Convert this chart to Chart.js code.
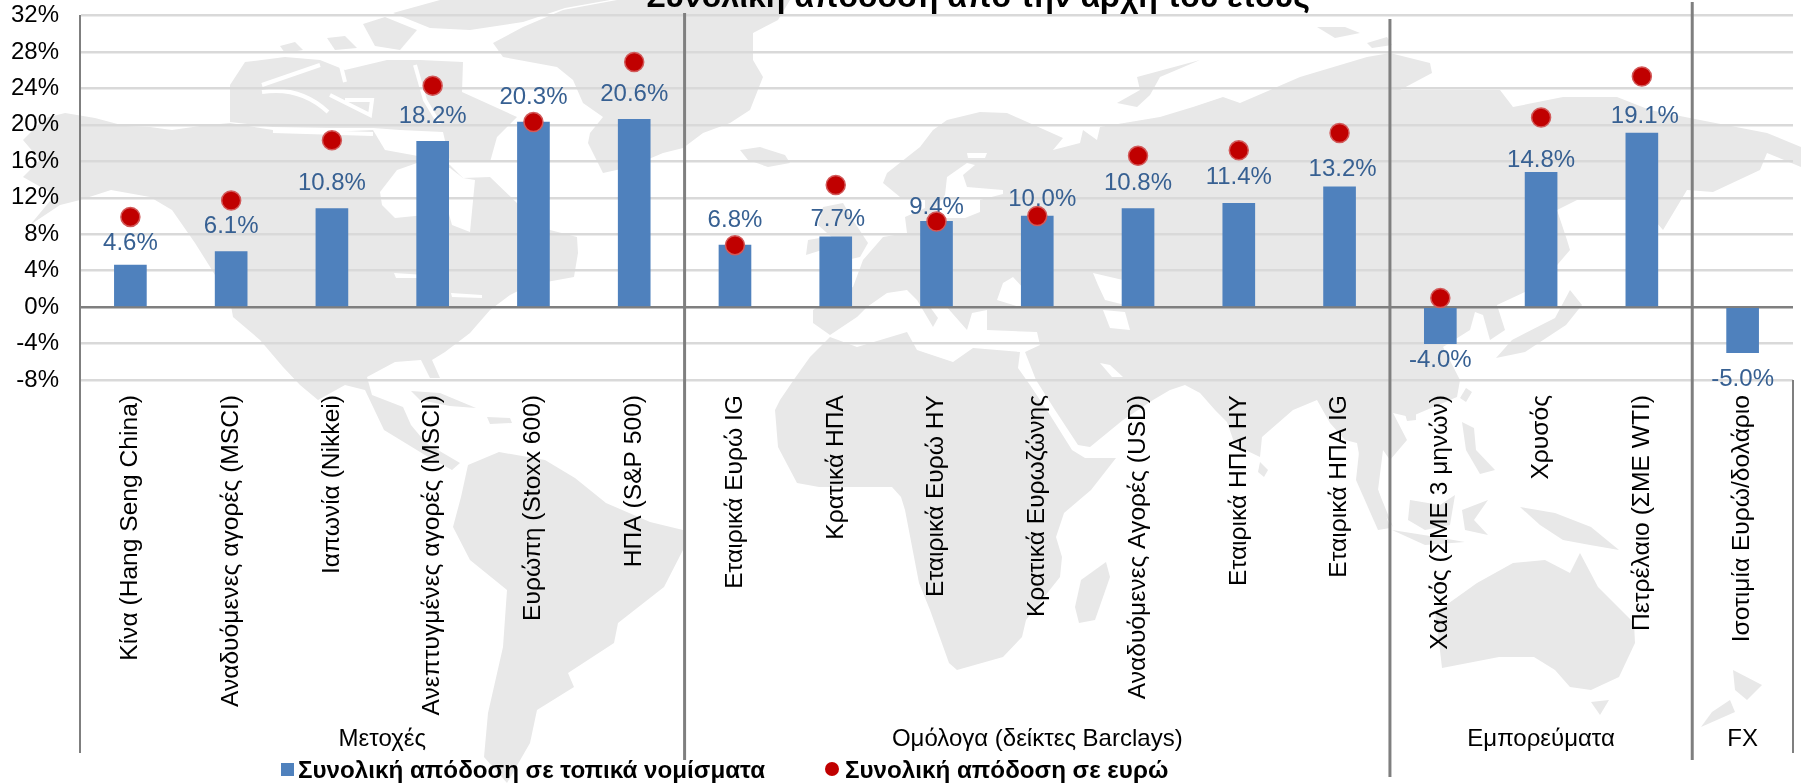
<!DOCTYPE html>
<html lang="el">
<head>
<meta charset="utf-8">
<title>Συνολική απόδοση από την αρχή του έτους</title>
<script src="https://cdn.jsdelivr.net/npm/chart.js@4/dist/chart.umd.min.js"></script>
<style>
    html, body { margin: 0; padding: 0; background: #fff; overflow: hidden; }
    #wrap { position: relative; width: 1801px; height: 783px; }
    #worldMap, #returnsChart { position: absolute; left: 0; top: 0; }
</style>
</head>
<body>
<div id="wrap">
    <!-- faint world map behind the chart -->
    <svg id="worldMap" width="1801" height="783" viewBox="0 0 1801 783">
        <g fill="#e8e8e8">
            <!-- North and Central America -->
            <path d="M23,140 45,118 65,113 95,118 125,126 150,127 172,130 200,126 230,123 273,130 330,132 373,130 385,150 440,160 450,165 463,178 490,177 517,203 550,230 577,237 578,253 574,277 530,285 510,295 490,310 470,333 445,352 432,360 440,378 430,378 421,360 395,362 367,377 372,395 403,407 411,425 426,443 460,463 452,470 425,455 384,430 365,390 345,385 318,400 300,385 283,367 260,340 233,317 230,300 212,270 195,243 172,210 150,197 111,190 80,200 60,205 30,225 55,195 23,177 40,160Z"/>
            <!-- Arctic islands -->
            <path d="M230,85 245,62 285,57 320,60 345,70 387,60 420,60 463,62 462,92 517,117 497,137 490,162 450,162 443,132 400,130 373,128 330,128 273,127 230,122Z"/>
            <path d="M393,13 440,0 610,0 565,8 523,22 470,30 430,28Z"/>
            <path d="M363,24 385,17 417,30 400,50 375,46Z"/>
            <path d="M327,38 345,36 357,48 335,50Z"/>
            <path d="M280,46 295,42 303,50 285,53Z"/>
            <!-- Greenland -->
            <path d="M617,0 790,0 778,20 753,33 753,60 763,77 750,110 730,123 703,133 683,148 663,153 630,167 603,173 588,143 590,133 603,117 583,103 573,80 557,67 503,57 493,43 523,27 563,10Z"/>
            <!-- Iceland -->
            <path d="M740,150 760,147 785,155 790,163 768,167 748,160Z"/>
            <!-- Caribbean -->
            <path d="M411,391 440,393 476,408 450,406 420,400Z"/>
            <path d="M487,417 510,418 512,423 490,424Z"/>
            <!-- South America -->
            <path d="M468,465 499,452 545,460 575,478 606,503 650,522 683,530 683,550 664,587 618,623 614,643 568,673 574,687 537,710 530,743 507,783 484,757 488,713 503,647 507,590 470,560 453,527 461,497Z"/>
            <!-- Africa -->
            <path d="M780,400 795,378 810,357 830,337 857,347 907,332 917,350 953,362 973,348 1020,352 1018,368 1030,385 1050,415 1072,450 1085,458 1116,458 1091,490 1064,513 1056,537 1062,557 1060,577 1026,620 1022,637 1003,657 957,670 949,663 930,610 919,583 905,510 901,497 892,487 850,487 819,487 797,483 778,447 775,410Z"/>
            <!-- Madagascar -->
            <path d="M1106,562 1110,577 1095,620 1079,623 1075,607 1081,580Z"/>
            <!-- Eurasia -->
            <path d="M813,310 813,323 830,335 857,317 867,307 887,293 907,290 917,300 933,327 938,318 925,300 945,305 967,330 972,313 987,310 987,330 1037,332 1040,345 1025,352 1036,380 1055,410 1078,445 1090,447 1123,420 1153,400 1170,390 1185,385 1200,393 1215,410 1227,422 1235,445 1260,457 1262,437 1293,410 1317,400 1330,423 1345,440 1357,443 1363,477 1373,497 1393,527 1378,490 1383,450 1390,460 1407,440 1393,413 1410,417 1457,397 1460,380 1443,347 1470,330 1475,312 1483,315 1490,340 1505,330 1497,305 1540,285 1570,250 1567,240 1557,210 1577,200 1637,200 1663,230 1687,190 1713,192 1760,170 1767,153 1801,167 1801,147 1767,133 1700,120 1650,110 1617,97 1563,97 1513,107 1500,90 1400,90 1432,73 1430,63 1390,53 1367,57 1300,77 1240,103 1223,97 1193,107 1160,117 1100,127 1097,140 1083,130 1080,143 1053,150 1063,138 1007,113 980,112 947,120 933,130 920,147 887,173 883,183 900,197 925,200 925,208 905,217 907,233 883,237 863,260 853,287 840,293Z"/>
            <!-- Arctic Russia islands -->
            <path d="M1117,103 1140,90 1137,77 1200,60 1160,77 1150,95 1137,107Z"/>
            <path d="M1317,27 1345,27 1360,33 1335,38Z"/>
            <path d="M1367,43 1387,37 1392,45 1372,48Z"/>
            <!-- British Isles -->
            <path d="M823,207 843,203 853,220 868,243 860,257 825,265 835,240 818,225Z"/>
            <path d="M808,240 820,238 822,250 806,255Z"/>
            <!-- Sri Lanka -->
            <path d="M1260,462 1268,470 1264,477 1258,472Z"/>
            <!-- Japan, Taiwan, Hainan -->
            <path d="M1570,290 1582,305 1566,325 1525,352 1496,358 1512,340 1555,318Z"/>
            <path d="M1466,388 1472,392 1466,402 1460,398Z"/>
            <path d="M1405,414 1416,413 1416,420 1407,421Z"/>
            <!-- Philippines and islands -->
            <path d="M1462,422 1474,428 1476,450 1495,470 1480,474 1466,450Z"/>
            <path d="M1360,443 1372,470 1390,528 1378,530 1356,480Z"/>
            <path d="M1410,500 1440,505 1455,495 1450,525 1425,530 1408,520Z"/>
            <path d="M1392,530 1430,536 1465,542 1425,545Z"/>
            <path d="M1462,510 1488,500 1474,520 1488,535 1465,530Z"/>
            <!-- New Guinea -->
            <path d="M1520,507 1555,513 1591,527 1619,550 1590,545 1563,540 1540,525Z"/>
            <!-- Australia, Tasmania, New Zealand -->
            <path d="M1477,583 1513,563 1545,560 1570,573 1580,553 1598,587 1634,623 1635,643 1619,677 1591,690 1570,687 1555,670 1534,657 1499,657 1442,668 1438,633 1435,613Z"/>
            <path d="M1591,702 1609,700 1600,715Z"/>
            <path d="M1733,670 1762,685 1747,700 1735,690Z"/>
            <path d="M1730,700 1735,712 1701,727 1712,712Z"/>
        </g>
        <g fill="#fff">
            <!-- Hudson Bay and inland seas -->
            <path d="M380,192 397,170 417,163 450,168 463,178 475,180 470,232 452,225 445,200 425,215 395,218 382,205Z"/>
            <path d="M947,177 967,163 975,165 963,175 967,187 1003,190 1003,194 980,200 980,212 965,218 945,218 935,208 945,195Z"/>
            <path d="M967,153 987,153 985,158 968,158Z"/>
            <path d="M997,300 1003,283 1013,277 1025,290 1053,293 1053,303 1020,307Z"/>
            <path d="M1093,273 1123,280 1125,305 1105,300 1098,285Z"/>
            <path d="M1103,310 1125,312 1130,330 1110,328Z"/>
            <path d="M1100,363 1110,365 1123,377 1112,377Z"/>
            <path d="M394,273 425,275 425,278 396,278Z"/>
            <path d="M451,293 482,295 482,298 452,297Z"/>
        </g>
        <!-- channels through the Arctic islands -->
        <g fill="none" stroke="#fff" stroke-width="4">
            <path d="M273,131 373,134"/>
            <path d="M262,92 Q300,86 328,112"/>
            <path d="M330,95 370,115 372,100 345,100"/>
            <path d="M415,65 425,100 440,125"/>
            <path d="M320,65 262,85"/>
            <path d="M340,62 345,82"/>
        </g>
    </svg>
    <canvas id="returnsChart" width="1801" height="783"></canvas>
</div>
<script>
// Απόδοση ανά κατηγορία, σε ποσοστά
const categories = [
    'Κίνα (Hang Seng China)', 'Αναδυόμενες αγορές (MSCI)', 'Ιαπωνία (Nikkei)',
    'Ανεπτυγμένες αγορές (MSCI)', 'Ευρώπη (Stoxx 600)', 'ΗΠΑ (S&P 500)',
    'Εταιρικά Ευρώ IG', 'Κρατικά ΗΠΑ', 'Εταιρικά Ευρώ HY', 'Κρατικά Ευρωζώνης',
    'Αναδυόμενες Αγορές (USD)', 'Εταιρικά ΗΠΑ HY', 'Εταιρικά ΗΠΑ IG',
    'Χαλκός (ΣΜΕ 3 μηνών)', 'Χρυσός', 'Πετρέλαιο (ΣΜΕ WTI)', 'Ισοτιμία Ευρώ/δολάριο'
];
const localReturns = [4.6, 6.1, 10.8, 18.2, 20.3, 20.6, 6.8, 7.7, 9.4, 10.0, 10.8, 11.4, 13.2, -4.0, 14.8, 19.1, -5.0];
const euroReturns = [9.9, 11.7, 18.3, 24.3, 20.3, 26.9, 6.8, 13.4, 9.4, 10.0, 16.6, 17.2, 19.1, 1.0, 20.8, 25.3, null];

const groupNames = ['Μετοχές', 'Ομόλογα (δείκτες Barclays)', 'Εμπορεύματα', 'FX'];
const groupSizes = [6, 7, 3, 1];

const chartTitle = 'Συνολική απόδοση από την αρχή του έτους';
const localLabel = 'Συνολική απόδοση σε τοπικά νομίσματα';
const euroLabel = 'Συνολική απόδοση σε ευρώ';

// Απόσταση κάθε ετικέτας από τη μπάρα
const labelGaps = [22, 25, 25, 25, 25, 25, 25, 18, 14, 17, 25, 26, 17, 17, 12, 17, 27];
const labelShifts = [0, 0, 0, 0, 0, 0, 0, 2, 0, 5, 0, 0, 3, 0, 0, 3, 0];

const FONT = '"Liberation Sans", Arial, sans-serif';
const BAR_BLUE = '#4f81bd';
const DOT_RED = '#c00000';
const AXIS_GREY = '#7f7f7f';

// Ετικέτες τιμών πάνω από τις μπάρες
const valueLabels = {
    id: 'valueLabels',
    beforeDatasetsDraw(chart) {
        const { ctx, scales: { y } } = chart;
        const bars = chart.getDatasetMeta(0).data;
        ctx.save();
        ctx.font = '24px ' + FONT;
        ctx.fillStyle = '#376092';
        ctx.textAlign = 'center';
        ctx.textBaseline = 'middle';
        localReturns.forEach((val, i) => {
            const dir = val < 0 ? 1 : -1;
            ctx.fillText(val.toFixed(1) + '%', bars[i].x + labelShifts[i], y.getPixelForValue(val) + dir * labelGaps[i]);
        });
        ctx.restore();
    }
};

// Διαχωριστικά ομάδων, τίτλος, ονόματα ομάδων και υπόμνημα
const frameAndText = {
    id: 'frameAndText',
    afterDatasetsDraw(chart) {
        const { ctx, chartArea: area, scales: { x } } = chart;
        const step = x.getPixelForValue(1) - x.getPixelForValue(0);
        const dividerTops = [13, 19, 2];
        const dividerBottoms = [760, 777, 760];

        ctx.save();
        ctx.strokeStyle = AXIS_GREY;

        ctx.lineWidth = 2;
        [area.left, area.right].forEach(px => {
            ctx.beginPath();
            ctx.moveTo(px, area.bottom);
            ctx.lineTo(px, 753);
            ctx.stroke();
        });

        ctx.lineWidth = 3;
        ctx.fillStyle = '#000';
        ctx.font = '24px ' + FONT;
        ctx.textAlign = 'center';
        ctx.textBaseline = 'middle';
        let start = 0;
        groupNames.forEach((name, g) => {
            const end = start + groupSizes[g];
            const leftPx = x.getPixelForValue(start) - step / 2;
            const rightPx = x.getPixelForValue(end - 1) + step / 2;
            ctx.fillText(name, (leftPx + rightPx) / 2, 739);
            if (g < groupNames.length - 1) {
                ctx.beginPath();
                ctx.moveTo(rightPx, dividerTops[g]);
                ctx.lineTo(rightPx, dividerBottoms[g]);
                ctx.stroke();
            }
            start = end;
        });

        ctx.font = 'bold 32px ' + FONT;
        ctx.textBaseline = 'alphabetic';
        ctx.fillText(chartTitle, 978, 7);

        // Υπόμνημα
        ctx.font = 'bold 24.2px ' + FONT;
        ctx.textAlign = 'left';
        ctx.fillStyle = BAR_BLUE;
        ctx.fillRect(281, 763, 13, 13);
        ctx.fillStyle = '#000';
        ctx.fillText(localLabel, 298, 778);
        ctx.fillStyle = DOT_RED;
        ctx.beginPath();
        ctx.arc(832, 769, 7, 0, Math.PI * 2);
        ctx.fill();
        ctx.fillStyle = '#000';
        ctx.fillText(euroLabel, 845, 778);
        ctx.restore();
    }
};

new Chart(document.getElementById('returnsChart'), {
    data: {
        labels: categories,
        datasets: [
            {
                type: 'bar',
                label: localLabel,
                data: localReturns,
                backgroundColor: BAR_BLUE,
                barThickness: 32,
                order: 2
            },
            {
                type: 'line',
                label: euroLabel,
                data: euroReturns,
                showLine: false,
                pointRadius: 9.5,
                pointBackgroundColor: DOT_RED,
                pointBorderColor: '#d25a5a',
                pointBorderWidth: 1.5,
                order: 1
            }
        ]
    },
    options: {
        responsive: false,
        animation: false,
        layout: { autoPadding: false, padding: { top: 15.5, right: 8 } },
        plugins: {
            legend: { display: false },
            tooltip: { enabled: false }
        },
        scales: {
            x: {
                grid: { display: false, drawTicks: false },
                border: { display: false },
                afterFit(scale) { scale.height = 403; },
                ticks: {
                    autoSkip: false,
                    minRotation: 90,
                    maxRotation: 90,
                    padding: 15,
                    color: '#000',
                    font: { family: FONT, size: 24.6 }
                }
            },
            y: {
                min: -8,
                max: 32,
                afterFit(scale) {
                    scale.width = 80;
                    scale.paddingTop = 0;
                    scale.paddingBottom = 0;
                },
                border: { color: AXIS_GREY, width: 2 },
                grid: {
                    drawTicks: false,
                    lineWidth: 2.5,
                    color: ctx => ctx.tick.value === 0 ? AXIS_GREY : '#d9d9d9'
                },
                ticks: {
                    stepSize: 4,
                    padding: 21,
                    color: '#000',
                    font: { family: FONT, size: 24 },
                    callback: val => val + '%'
                }
            }
        }
    },
    plugins: [valueLabels, frameAndText]
});
</script>
</body>
</html>
